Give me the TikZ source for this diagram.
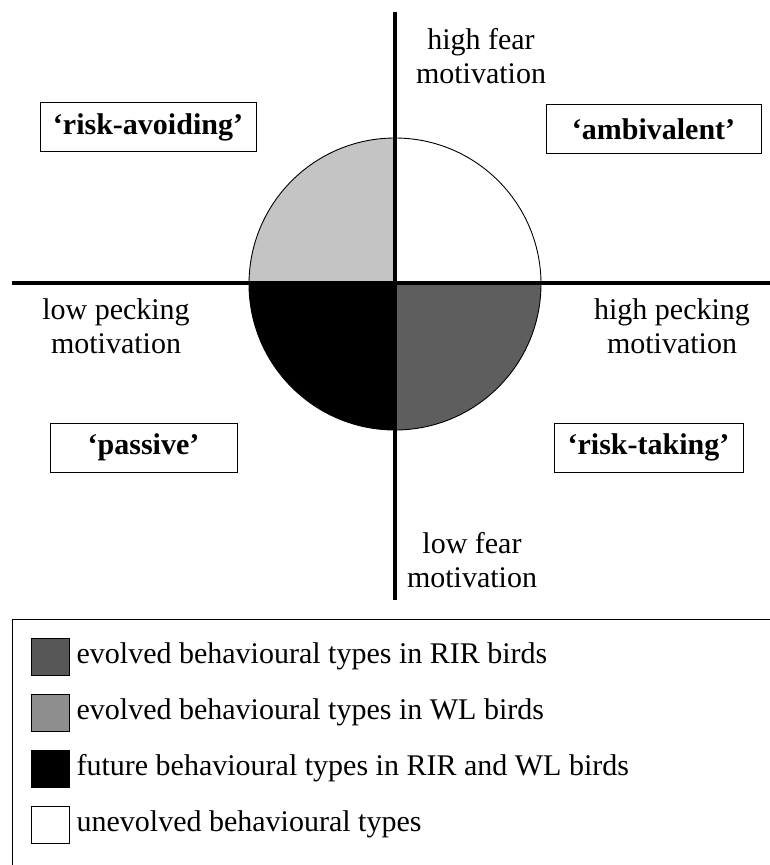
\documentclass[tikz,border=0pt]{standalone}
\usepackage{fontspec}
\setmainfont{Liberation Serif}
\usetikzlibrary{positioning}

\definecolor{rirgray}{HTML}{5E5E5E}
\definecolor{wlgray}{HTML}{C4C4C4}
\definecolor{keyrir}{HTML}{575757}
\definecolor{keywl}{HTML}{8E8E8E}

\begin{document}
\begin{tikzpicture}[
    x=1pt, y=-1pt,
    every node/.style={font=\fontsize{30}{34}\selectfont, inner sep=0pt},
    typebox/.style={draw, line width=0.9pt, minimum height=49pt,
        font=\fontsize{30}{34}\selectfont\bfseries},
    axislabel/.style={align=center},
    swatch/.style={draw, line width=0.8pt, minimum width=38pt, minimum height=37pt}
]
\useasboundingbox (0,0) rectangle (770,865);
\def\rad{146}

\coordinate (O) at (395,284);
\coordinate (Top) at (395,12);
\coordinate (Bot) at (395,600);
\coordinate (Left) at (12,283);
\coordinate (Right) at (770,283);

% Quadrants of the circle
\foreach \a/\b/\col in {180/270/wlgray, 270/360/white, 90/180/black, 0/90/rirgray}
    \fill[\col] (O) -- ++(\a:\rad) arc[start angle=\a, end angle=\b, radius=\rad] -- cycle;
\draw[line width=0.9pt] (O) circle (\rad);

% Axes
\draw[line width=3.2pt] (Top) -- (Bot);
\draw[line width=3.6pt] (Left) -- (Right);

% Axis labels
\node[axislabel] (hifear) at (481,56) {high fear\\motivation};
\node[axislabel] (lofear) at (472,560) {low fear\\motivation};
\node[axislabel] (lopeck) at (116,326) {low pecking\\motivation};
\node[axislabel] (hipeck) at (672,326) {high pecking\\motivation};

% Behavioural types
\node[typebox, minimum width=216pt] (avoid) at (148,127) {‘risk-avoiding’};
\node[typebox, minimum width=215pt] (ambi) at (653.5,129) {‘ambivalent’};
\node[typebox, minimum width=187pt] (pass) at (143.5,447.5) {‘passive’};
\node[typebox, minimum width=189pt] (take) at (648.5,447.5) {‘risk-taking’};

% Legend
\draw[line width=0.9pt] (12,865) -- (12,619) -- (770,619);
\foreach \col/\txt [count=\i] in {
    keyrir/evolved behavioural types in RIR birds,
    keywl/evolved behavioural types in WL birds,
    black/future behavioural types in RIR and WL birds,
    white/unevolved behavioural types}
{
    \node[swatch, fill=\col] (sw\i) at (50,{656.5+56*(\i-1)}) {};
    \node[right=7pt of sw\i] (key\i) {\txt};
}
\end{tikzpicture}
\end{document}
